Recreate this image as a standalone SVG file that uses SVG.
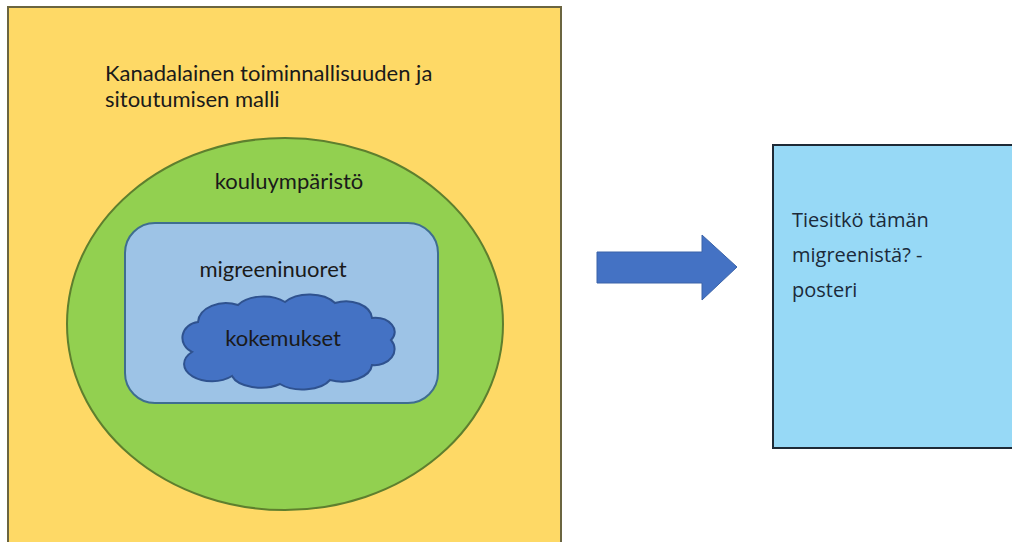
<svg xmlns="http://www.w3.org/2000/svg" width="1012" height="542" viewBox="0 0 1012 542">
<style>
.t{font-family:Lato,"Noto Sans",sans-serif;fill:#1a1a1a;font-size:22px;}
.p{font-family:"Open Sans","Noto Sans",sans-serif;fill:#1b2a3a;font-size:20px;}
</style>
<rect width="1012" height="542" fill="#ffffff"/>
<g id="model">
<rect x="8" y="7" width="553" height="540" fill="#FED966" stroke="#6b6540" stroke-width="2"/>
<text class="t" x="105" y="81">Kanadalainen toiminnallisuuden ja</text>
<text class="t" x="105" y="107">sitoutumisen malli</text>
</g>
<g id="kouluymparisto">
<ellipse cx="285" cy="324" rx="218" ry="186" fill="#92D050" stroke="#5E7F2E" stroke-width="2"/>
<text class="t" x="289" y="189" text-anchor="middle">kouluympäristö</text>
</g>
<g id="migreeninuoret">
<rect x="125" y="223" width="313" height="180" rx="30" ry="30" fill="#9DC3E6" stroke="#3F6E8F" stroke-width="2"/>
<text class="t" x="273" y="277" text-anchor="middle">migreeninuoret</text>
</g>
<g id="kokemukset">
<path d="M192,352 A18,16 0 0,1 198,322 A28,20 0 0,1 238,305 A30,18 0 0,1 285,302 A30,18 0 0,1 335,303 A26,18 0 0,1 372,318 A20,14 0 0,1 391,340 A20,16 0 0,1 372,365 A30,18 0 0,1 330,380 A30,16 0 0,1 280,384 A30,16 0 0,1 232,376 A26,16 0 0,1 192,352 Z" fill="#4472C4" stroke="#2F528F" stroke-width="2"/>
<text class="t" x="283" y="346" text-anchor="middle">kokemukset</text>
</g>
<g id="connectors">
<polygon points="597,252 702,252 702,235 737,267 702,300 702,283 597,283" fill="#4472C4" stroke="#3A63A8" stroke-width="1"/>
</g>
<g id="posteri">
<rect x="773" y="145" width="245" height="303" fill="#97D9F6" stroke="#1e2a36" stroke-width="2"/>
<text class="p" x="792" y="227">Tiesitkö tämän</text>
<text class="p" x="792" y="262">migreenistä? -</text>
<text class="p" x="792" y="297">posteri</text>
</g>
</svg>
